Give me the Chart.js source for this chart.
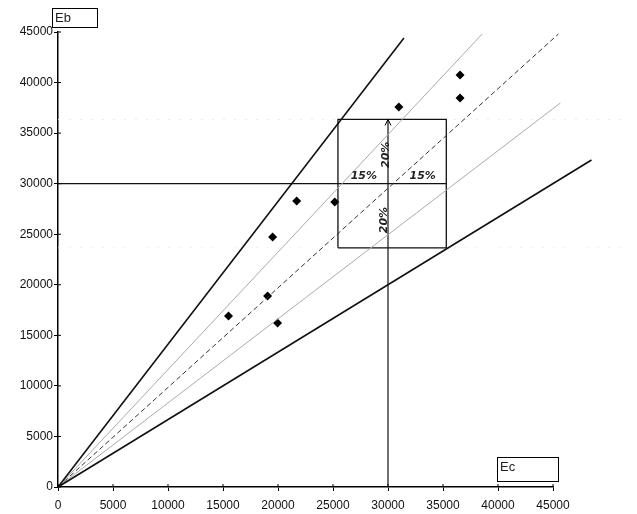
<!DOCTYPE html>
<html>
<head>
<meta charset="utf-8">
<script src="https://cdn.jsdelivr.net/npm/chart.js@4/dist/chart.umd.min.js"></script>
<style>
  body { margin: 0; background: #fff; }
  #wrap { width: 637px; height: 514px; position: relative; }
</style>
</head>
<body>
<div id="wrap"><canvas id="ebEcChart" width="637" height="514"></canvas></div>
<script>
// measured points (Ec, Eb)
var ecValues = [15500, 19050, 19960, 19510, 21700, 25160, 30990, 36550, 36550];
var ebValues = [16910, 18890, 16220, 24730, 28290, 28190, 37590, 38480, 40750];

// reference lines, end points (all start at origin)
var upperBoundEnd = [31450, 44400];   // +40%
var upperBandEnd  = [38560, 44800];   // +15%
var equalityEnd   = [45490, 44800];   // Eb = Ec
var lowerBandEnd  = [45670, 37980];   // -15%
var lowerBoundEnd = [48500, 32340];   // -40%

// tolerance box around the design point
var designPoint = [30000, 30000];
var boxEc = [25450, 35300];
var boxEb = [23650, 36350];
var faintLevels = [36350, 23650];

var xTicks = [0, 5000, 10000, 15000, 20000, 25000, 30000, 35000, 40000, 45000];
var yTicks = [0, 5000, 10000, 15000, 20000, 25000, 30000, 35000, 40000, 45000];

function ray(end) { return [{x: 0, y: 0}, {x: end[0], y: end[1]}]; }
function lineDs(data, color, width, dash) {
  return { type: 'scatter', data: data, showLine: true, borderColor: color, borderWidth: width,
           borderDash: dash || [], pointRadius: 0, clip: false, fill: false };
}

var pts = ecValues.map(function (v, i) { return {x: v, y: ebValues[i]}; });

var decor = {
  id: 'decor',
  afterDraw: function (chart) {
    var ctx = chart.ctx, xs = chart.scales.x, ys = chart.scales.y;
    ctx.save();
    // inward halves of tick marks
    ctx.strokeStyle = '#000'; ctx.lineWidth = 1;
    xTicks.forEach(function (t) {
      var px = xs.getPixelForValue(t);
      ctx.beginPath(); ctx.moveTo(px, ys.bottom); ctx.lineTo(px, ys.bottom - 3); ctx.stroke();
    });
    yTicks.forEach(function (t) {
      var py = ys.getPixelForValue(t);
      ctx.beginPath(); ctx.moveTo(xs.left, py); ctx.lineTo(xs.left + 3, py); ctx.stroke();
    });
    // arrow head at top of vertical line
    var ax = xs.getPixelForValue(designPoint[0]), ay = ys.getPixelForValue(boxEb[1]);
    ctx.beginPath(); ctx.moveTo(ax - 3, ay + 6); ctx.lineTo(ax, ay); ctx.lineTo(ax + 3, ay + 6); ctx.stroke();
    // axis title boxes
    ctx.font = '13px "Liberation Sans", Arial, sans-serif';
    ctx.fillStyle = '#222'; ctx.textBaseline = 'middle'; ctx.textAlign = 'left';
    ctx.lineWidth = 1;
    ctx.strokeRect(52.5, 8.5, 45, 19);
    ctx.fillText('Eb', 55, 18);
    ctx.strokeRect(497.5, 457.5, 61, 24);
    ctx.fillText('Ec', 500, 467);
    // handwritten tolerance notes
    ctx.font = 'italic bold 11px "DejaVu Sans", sans-serif';
    ctx.textAlign = 'center';
    ctx.fillText('15%', xs.getPixelForValue(27800), ys.getPixelForValue(30700));
    ctx.fillText('15%', xs.getPixelForValue(33150), ys.getPixelForValue(30700));
    [[29800, 32850], [29650, 26400]].forEach(function (p) {
      ctx.save();
      ctx.translate(xs.getPixelForValue(p[0]), ys.getPixelForValue(p[1]));
      ctx.rotate(-Math.PI / 2);
      ctx.fillText('20%', 0, 0);
      ctx.restore();
    });
    ctx.restore();
  }
};

var datasets = [
  lineDs(ray(upperBoundEnd), '#111', 1.6),
  lineDs(ray(lowerBoundEnd), '#111', 1.6),
  lineDs(ray(upperBandEnd), '#aaa', 1),
  lineDs(ray(lowerBandEnd), '#aaa', 1),
  lineDs(ray(equalityEnd), '#333', 1, [5, 3]),
  lineDs([{x: 0, y: designPoint[1]}, {x: boxEc[1], y: designPoint[1]}], '#111', 1.2),
  lineDs([{x: designPoint[0], y: 0}, {x: designPoint[0], y: boxEb[1]}], '#111', 1.2),
  lineDs([{x: boxEc[0], y: boxEb[0]}, {x: boxEc[1], y: boxEb[0]}, {x: boxEc[1], y: boxEb[1]},
          {x: boxEc[0], y: boxEb[1]}, {x: boxEc[0], y: boxEb[0]}], '#111', 1.3),
  lineDs([{x: 0, y: faintLevels[0]}, {x: 52000, y: faintLevels[0]}], '#ededed', 1, [2, 9]),
  lineDs([{x: 0, y: faintLevels[1]}, {x: 52000, y: faintLevels[1]}], '#ededed', 1, [2, 9]),
  { type: 'scatter', data: pts, pointStyle: 'rectRot', pointRadius: 4.5,
    backgroundColor: '#000', borderColor: '#000', borderWidth: 0 }
];

function plainTick(v) { return String(v); }

var chart = new Chart("ebEcChart", {
  type: "scatter",
  data: { datasets: datasets },
  plugins: [decor],
  options: {
    responsive: false,
    animation: false,
    layout: { padding: { top: 32, right: 84, left: 0, bottom: 0 } },
    plugins: { legend: { display: false }, tooltip: { enabled: false } },
    scales: {
      x: {
        type: 'linear', min: 0, max: 45000,
        afterFit: function (s) { s.height = 27; },
        afterBuildTicks: function (s) { s.ticks = xTicks.map(function (v) { return {value: v}; }); },
        border: { color: '#000', width: 1.5 },
        grid: { drawOnChartArea: false, color: '#000', tickLength: 4 },
        ticks: { color: '#111', padding: 7, maxRotation: 0, callback: plainTick,
                 font: { size: 12, family: '"Liberation Sans", Arial, sans-serif' } }
      },
      y: {
        type: 'linear', min: 0, max: 45000,
        afterFit: function (s) { s.width = 58; },
        afterBuildTicks: function (s) { s.ticks = yTicks.map(function (v) { return {value: v}; }); },
        border: { color: '#000', width: 1.5 },
        grid: { drawOnChartArea: false, color: '#000', tickLength: 4 },
        ticks: { color: '#111', padding: 1, callback: plainTick,
                 font: { size: 12, family: '"Liberation Sans", Arial, sans-serif' } }
      }
    }
  }
});
</script>
</body>
</html>
